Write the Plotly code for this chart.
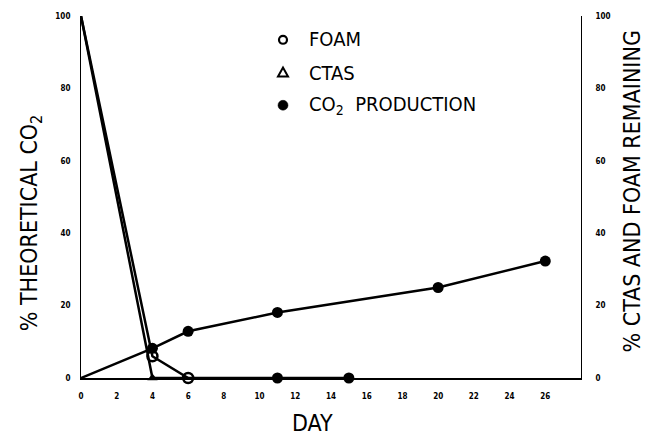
import plotly.graph_objects as go

# Data
co2_days = [0, 4, 6, 11, 20, 26]
co2_vals = [0, 8.2, 12.9, 18.1, 25.0, 32.3]

foam_days = [0, 4, 6]
foam_vals = [100, 6, 0]

ctas_days = [0, 4, 11, 15]
ctas_vals = [100, 0, 0, 0]

x_ticks = list(range(0, 27, 2))
y_ticks = [0, 20, 40, 60, 80, 100]

FONT = "DejaVu Sans Condensed, Liberation Sans Narrow, sans-serif"
W, H = 661, 441
ML, MR, MT, MB = 81, 80, 13, 63

fig = go.Figure()

fig.add_trace(go.Scatter(
    x=ctas_days, y=ctas_vals, yaxis="y2", mode="lines+markers",
    line=dict(color="black", width=2.5),
    marker=dict(symbol=["circle", "triangle-up", "circle", "circle"],
                size=[0, 9, 11, 11], color="black", opacity=1,
                line=dict(width=0)),
    cliponaxis=False, showlegend=False))

fig.add_trace(go.Scatter(
    x=foam_days, y=foam_vals, yaxis="y2", mode="lines+markers",
    line=dict(color="black", width=2.5),
    marker=dict(symbol="circle-open", size=[0, 10, 10], color="black", opacity=1,
                line=dict(width=2.5, color="black")),
    cliponaxis=False, showlegend=False))

fig.add_trace(go.Scatter(
    x=co2_days, y=co2_vals, mode="lines+markers",
    line=dict(color="black", width=2.5),
    marker=dict(symbol="circle", size=[0, 11, 11, 11, 11, 11], color="black",
                opacity=1, line=dict(width=0)),
    cliponaxis=False, showlegend=False))

tickfont = dict(family="DejaVu Sans Condensed, DejaVu Sans, sans-serif", size=8,
                color="black", weight="bold")
titlefont = dict(family=FONT, size=23, color="black")
legfont = dict(family=FONT, size=20, color="black")

fig.update_layout(
    width=W, height=H,
    margin=dict(l=ML, r=MR, t=MT, b=MB),
    paper_bgcolor="white", plot_bgcolor="white",
    xaxis=dict(range=[0, 28], tickvals=x_ticks, ticktext=[str(v) for v in x_ticks],
               showgrid=False, zeroline=False, showline=True, linecolor="black",
               linewidth=1.5, ticks="", tickfont=tickfont, ticklabelstandoff=10),
    yaxis=dict(range=[0, 100], tickvals=y_ticks, showgrid=False, zeroline=False,
               showline=True, linecolor="black", linewidth=1, ticks="",
               tickfont=tickfont, ticklabelstandoff=8),
    yaxis2=dict(range=[0, 100], tickvals=y_ticks, overlaying="y", side="right",
                showgrid=False, zeroline=False, showline=True, linecolor="black",
                linewidth=1, ticks="", tickfont=tickfont, ticklabelstandoff=12),
)

PW, PH = W - ML - MR, H - MT - MB

def px(xp, yp):
    return (xp - ML) / PW, (H - yp - MB) / PH

def ann(xp, yp, text, font, xanchor="center", angle=0):
    x, y = px(xp, yp)
    fig.add_annotation(x=x, y=y, xref="paper", yref="paper", text=text,
                       showarrow=False, font=font, xanchor=xanchor,
                       yanchor="middle", textangle=angle)

ann(312, 423, "DAY", titlefont)
ann(31, 222, "% THEORETICAL CO<sub>2</sub>", titlefont, angle=-90)
ann(632, 190, "% CTAS AND FOAM REMAINING", titlefont, angle=-90)

# legend symbols drawn as shapes (pixel coordinates converted to paper)
def circ(cx, cy, r, filled, lw):
    x0, y0 = px(cx - r, cy + r)
    x1, y1 = px(cx + r, cy - r)
    fig.add_shape(type="circle", xref="paper", yref="paper", x0=x0, y0=y0, x1=x1, y1=y1,
                  line=dict(color="black", width=lw),
                  fillcolor="black" if filled else "rgba(0,0,0,0)")

circ(283, 37, 4, False, 2.2)
xa, ya = px(278, 74)
xb, yb = px(288, 74)
xc, yc = px(283, 65)
fig.add_shape(type="path", xref="paper", yref="paper",
              path=f"M {xa} {ya} L {xb} {yb} L {xc} {yc} Z",
              line=dict(color="black", width=2))
circ(283, 103, 5, True, 0.5)

legend_items = [("FOAM", 36), ("CTAS", 70), ("CO<sub>2</sub>  PRODUCTION", 103)]
for label, ypix in legend_items:
    ann(307, ypix, label, legfont, xanchor="left")

fig.write_html("out.html")
